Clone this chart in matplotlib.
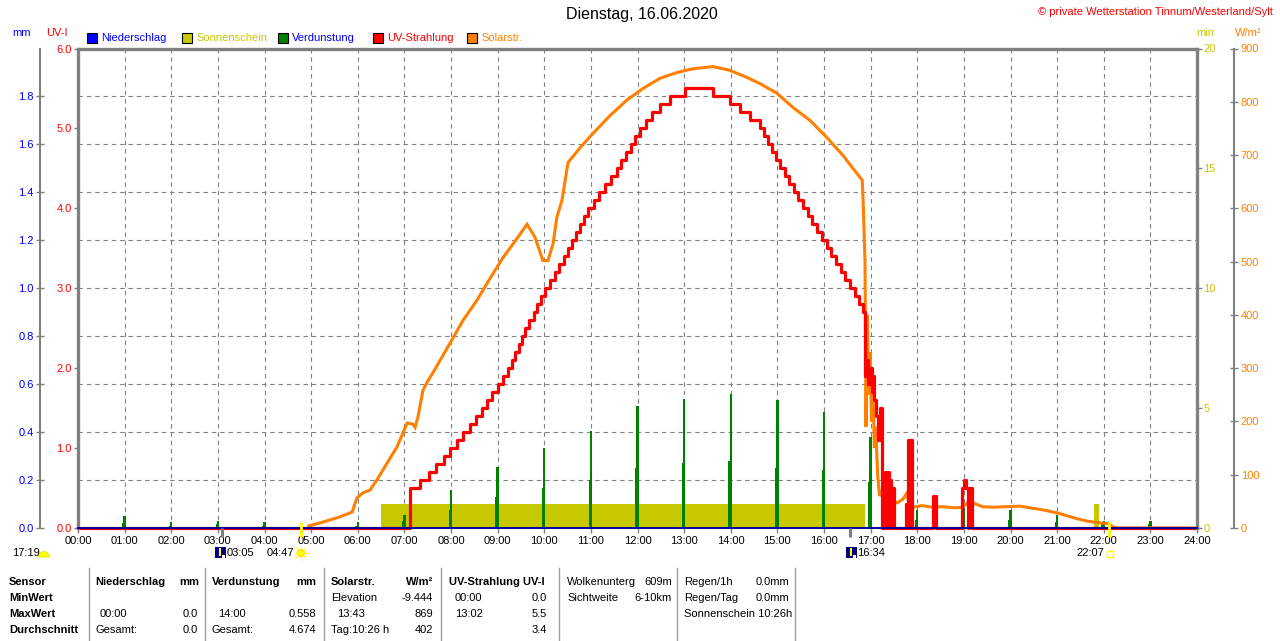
import matplotlib
matplotlib.use('Agg')
import matplotlib.pyplot as plt
from matplotlib.patches import Rectangle, Ellipse, Polygon
from matplotlib.lines import Line2D
import numpy as np

plt.rcParams['font.family'] = ['Liberation Sans', 'DejaVu Sans']
plt.rcParams['font.size'] = 8

# ---------------- data ----------------
hours = list(range(25))
hour_labels = [f"{h:02d}:00" for h in hours]

mm_ticks = [0.0, 0.2, 0.4, 0.6, 0.8, 1.0, 1.2, 1.4, 1.6, 1.8]
uv_ticks = [0, 1, 2, 3, 4, 5, 6]
min_ticks = [0, 5, 10, 15, 20]
w_ticks = [0, 100, 200, 300, 400, 500, 600, 700, 800, 900]

# Solar radiation (W/m2)
solar_t = [4.95, 5.25, 5.62, 5.88, 5.98, 6.11, 6.26, 6.41, 6.63, 6.84, 7.06, 7.18, 7.23, 7.29,
           7.40, 7.49, 7.61, 7.98, 8.26, 8.56, 8.84, 9.12, 9.42, 9.63, 9.80, 9.97, 10.08, 10.19,
           10.27, 10.38, 10.51, 10.77, 11.05, 11.41, 11.77, 12.12, 12.48, 12.85, 13.19, 13.62,
           13.98, 14.34, 14.63, 14.99, 15.34, 15.70, 16.06, 16.41, 16.62, 16.82, 16.84, 16.88,
           16.90, 16.93, 16.96, 16.99, 17.02, 17.05, 17.08, 17.11, 17.15, 17.19, 17.23, 17.30,
           17.35, 17.45, 17.57, 17.70, 17.78, 17.82, 17.91, 18.10, 18.34, 18.55, 18.80, 18.98,
           19.10, 19.20, 19.40, 19.62, 19.90, 20.20, 20.48, 20.70, 20.91, 21.10, 21.28, 21.45,
           21.64, 21.80, 21.98, 22.10, 22.20, 22.30, 24.0]
solar_v = [4, 11, 21, 30, 56, 66, 71, 90, 122, 152, 197, 195, 189, 208,
           259, 274, 291, 347, 390, 428, 469, 508, 544, 570, 546, 502, 502, 534,
           583, 615, 686, 714, 741, 774, 803, 825, 844, 855, 862, 866,
           859, 846, 834, 816, 789, 765, 733, 699, 675, 653, 611, 499,
           190, 400, 250, 330, 200, 260, 150, 190, 100, 60, 70, 50,
           58, 52, 47, 55, 66, 45, 39, 42, 39, 40, 38, 39,
           50, 47, 40, 39, 40, 41, 37, 34, 30, 26, 21, 17,
           13, 11, 9, 8, 2, 0, 0]

# UV index (step values, each value holds until the next time)
uv_t = [0.0, 7.12, 7.34, 7.52, 7.68, 7.84, 7.98, 8.12, 8.26, 8.40, 8.53, 8.66, 8.78, 8.89,
        9.00, 9.11, 9.22, 9.30, 9.38, 9.45, 9.52, 9.59, 9.68, 9.77, 9.85, 9.94, 10.02,
        10.12, 10.22, 10.32, 10.42, 10.51, 10.60, 10.68, 10.77, 10.85, 10.94, 11.06, 11.18,
        11.30, 11.43, 11.55, 11.65, 11.75, 11.85, 11.95, 12.05, 12.18, 12.32, 12.48, 12.70,
        13.02, 13.62, 13.98, 14.20, 14.42, 14.63, 14.72, 14.80, 14.89, 14.97, 15.06, 15.16,
        15.26, 15.36, 15.45, 15.55, 15.65, 15.75, 15.86, 15.96, 16.06, 16.16, 16.26, 16.36,
        16.46, 16.56, 16.66, 16.74, 16.84, 16.88, 16.92, 16.95, 16.98, 17.02, 17.05, 17.08,
        17.12, 17.15, 17.20, 17.24, 17.26, 17.28, 17.30, 17.32, 17.34, 17.36, 17.38, 17.40,
        17.42, 17.44, 17.46, 17.50, 17.76, 17.78, 17.80, 17.84, 17.86, 17.89, 18.34, 18.41,
        18.97, 19.00, 19.05, 19.09, 19.12, 19.17, 24.0]
uv_v = [0.0, 0.5, 0.6, 0.7, 0.8, 0.9, 1.0, 1.1, 1.2, 1.3, 1.4, 1.5, 1.6, 1.7,
        1.8, 1.9, 2.0, 2.1, 2.2, 2.3, 2.4, 2.5, 2.6, 2.7, 2.8, 2.9, 3.0,
        3.1, 3.2, 3.3, 3.4, 3.5, 3.6, 3.7, 3.8, 3.9, 4.0, 4.1, 4.2,
        4.3, 4.4, 4.5, 4.6, 4.7, 4.8, 4.9, 5.0, 5.1, 5.2, 5.3, 5.4,
        5.5, 5.4, 5.3, 5.2, 5.1, 5.0, 4.9, 4.8, 4.7, 4.6, 4.5, 4.4,
        4.3, 4.2, 4.1, 4.0, 3.9, 3.8, 3.7, 3.6, 3.5, 3.4, 3.3, 3.2,
        3.1, 3.0, 2.9, 2.8, 2.7, 1.9, 2.1, 1.8, 2.0, 1.7, 1.9, 1.6,
        1.4, 1.1, 1.5, 0.0, 0.6, 0.0, 0.7, 0.0, 0.5, 0.0, 0.7, 0.0,
        0.6, 0.0, 0.5, 0.0, 0.3, 0.0, 1.1, 0.0, 1.1, 0.0, 0.4, 0.0,
        0.5, 0.6, 0.5, 0.0, 0.5, 0.0, 0.0]

# Evaporation (mm) hourly spikes
evap_t = [1, 2, 3, 4, 6, 7, 8, 9, 10, 11, 12, 13, 14, 15, 16, 17, 18, 19, 20, 21, 22, 23]
evap_main = [0.05, 0.025, 0.03, 0.025, 0.025, 0.054, 0.158, 0.254, 0.333, 0.404, 0.508, 0.537,
             0.558, 0.535, 0.485, 0.38, 0.075, 0.083, 0.075, 0.054, 0.03, 0.03]
evap_side = [0.02, 0.01, 0.015, 0.01, 0.01, 0.03, 0.075, 0.13, 0.167, 0.2, 0.25, 0.27,
             0.28, 0.25, 0.24, 0.19, 0.035, 0.04, 0.035, 0.025, 0.015, 0.015]

# Sunshine (min per minute)
sun_start = [6.50, 21.79]
sun_end = [16.87, 21.89]
sun_min = [1.0, 1.0]

# Precipitation (mm)
rain_t = [0.0, 24.0]
rain_v = [0.0, 0.0]

# Astronomical events
moon_times = [3 + 5 / 60, 16 + 34 / 60]
sun_times = [4 + 47 / 60, 22 + 7 / 60]

# ---------------- colours ----------------
C_BLUE = '#0000ff'
C_NAVY = '#0000a0'
C_RED = '#ff0000'
C_ORANGE = '#ff8000'
C_YEL = '#c8c800'
C_GREEN = '#008000'
C_GREY = '#808080'

W, H = 1280, 641
def fx(x):
    return x / W
def fy(y):
    return 1 - y / H

L, R, T, B = 78, 1197, 48.5, 528
PW = R - L
fig = plt.figure(figsize=(12.8, 6.41), dpi=100)
rect = [fx(L), fy(B), PW / W, (B - T) / H]

ax_mm = fig.add_axes(rect, zorder=1)
ax_min = ax_mm.twinx(); ax_min.set_zorder(2)
ax_ev = ax_mm.twinx(); ax_ev.set_zorder(3)
ax_w = ax_mm.twinx(); ax_w.set_zorder(4)
ax_uv = ax_mm.twinx(); ax_uv.set_zorder(5)
ax_rain = ax_mm.twinx(); ax_rain.set_zorder(6)

for a in (ax_mm, ax_min, ax_ev, ax_w, ax_uv, ax_rain):
    for s in a.spines.values():
        s.set_visible(False)
ax_mm.set_xlim(0, 24)

# mm axis (outer left)
ax_mm.set_ylim(0, 2.0)
ax_mm.set_yticks(mm_ticks)
ax_mm.set_yticklabels([f"{v:.1f}" for v in mm_ticks])
ax_mm.spines['left'].set_visible(True)
ax_mm.spines['left'].set_position(('axes', (40 - L) / PW))
ax_mm.spines['left'].set_color(C_GREY)
ax_mm.spines['left'].set_linewidth(1.5)
ax_mm.tick_params(axis='y', direction='inout', length=6, width=1, color=C_GREY,
                  labelcolor=C_BLUE, pad=1.5, labelsize=8)
ax_mm.set_xticks(hours)
ax_mm.set_xticklabels(hour_labels)
ax_mm.tick_params(axis='x', direction='out', length=3.6, width=1, color=C_GREY,
                  labelcolor='black', pad=2, labelsize=8)
ax_mm.grid(True, color=C_GREY, linestyle=(0, (4, 3.5)), linewidth=0.8)

# sunshine minutes axis (right, at frame)
ax_min.set_ylim(0, 20)
ax_min.set_yticks(min_ticks)
ax_min.tick_params(axis='y', direction='out', length=3.6, width=1, color=C_GREY,
                   labelcolor=C_YEL, pad=1, labelsize=8)
ax_min.bar(sun_start, sun_min, width=np.subtract(sun_end, sun_start), align='edge',
           color=C_YEL, linewidth=0)

# evaporation
ax_ev.set_ylim(0, 2.0)
ax_ev.yaxis.set_visible(False)
ax_ev.bar(np.array(evap_t) - 0.035, evap_side, width=0.03, color=C_GREEN, linewidth=0)
ax_ev.bar(evap_t, evap_main, width=0.05, color=C_GREEN, linewidth=0)

# solar radiation axis (outer right)
ax_w.set_ylim(0, 900)
ax_w.set_yticks(w_ticks)
ax_w.spines['right'].set_visible(True)
ax_w.spines['right'].set_position(('axes', 1 + 37 / PW))
ax_w.spines['right'].set_color(C_GREY)
ax_w.spines['right'].set_linewidth(1.5)
ax_w.tick_params(axis='y', direction='inout', length=5.5, width=1, color=C_GREY,
                 labelcolor=C_ORANGE, pad=2, labelsize=8)
ax_w.plot(solar_t, solar_v, color=C_ORANGE, linewidth=2.2, clip_on=False,
          solid_joinstyle='miter')

# UV axis (inner left) + frame
ax_uv.set_ylim(0, 6)
ax_uv.set_yticks(uv_ticks)
ax_uv.set_yticklabels([f"{v:.1f}" for v in uv_ticks])
ax_uv.yaxis.tick_left()
ax_uv.tick_params(axis='y', direction='out', length=3, width=1, color=C_GREY,
                  labelcolor=C_RED, pad=1.5, labelsize=8)
for side in ('left', 'top', 'right'):
    ax_uv.spines[side].set_visible(True)
    ax_uv.spines[side].set_color(C_GREY)
    ax_uv.spines[side].set_linewidth(2.4)
ax_uv.step(uv_t, uv_v, where='post', color=C_RED, linewidth=2.3, clip_on=False)

# precipitation line
ax_rain.set_ylim(0, 2.0)
ax_rain.yaxis.set_visible(False)
ax_rain.plot(rain_t, rain_v, color=C_NAVY, linewidth=1.4, clip_on=False)

# event ticks on the time axis
xt = ax_mm.get_xaxis_transform()
ax_rain.vlines(moon_times, -0.019, 0.0, transform=xt, colors=C_GREY, linewidth=2.2,
               clip_on=False)
ax_rain.vlines(sun_times, -0.019, 0.013, transform=xt, colors='#ffff00', linewidth=2.0,
               clip_on=False)

# ---------------- texts ----------------
fig.text(fx(642), fy(15), "Dienstag, 16.06.2020", ha='center', va='center', fontsize=11.5)
fig.text(fx(1273), fy(12), "\u00a9 private Wetterstation Tinnum/Westerland/Sylt", ha='right',
         va='center', color=C_RED, fontsize=8)
fig.text(fx(22), fy(33), "mm", ha='center', va='center', color=C_BLUE, fontsize=8)
fig.text(fx(57), fy(33), "UV-I", ha='center', va='center', color=C_RED, fontsize=8)
fig.text(fx(1205), fy(33), "min", ha='center', va='center', color=C_YEL, fontsize=8)
fig.text(fx(1248), fy(33), "W/m\u00b2", ha='center', va='center', color=C_ORANGE, fontsize=8)

legend_items = [("Niederschlag", C_BLUE, C_BLUE, 87),
                ("Sonnenschein", C_YEL, C_YEL, 182),
                ("Verdunstung", C_GREEN, C_BLUE, 278),
                ("UV-Strahlung", C_RED, C_RED, 373),
                ("Solarstr.", C_ORANGE, C_ORANGE, 467)]
for name, bc, tc, x0 in legend_items:
    fig.add_artist(Rectangle((fx(x0), fy(43)), 10 / W, 10 / H, transform=fig.transFigure,
                             facecolor=bc, edgecolor='black', linewidth=0.8))
    fig.text(fx(x0 + 14), fy(38), name, ha='left', va='center', color=tc, fontsize=8)

# event labels below the axis
fig.text(fx(12), fy(553), "17:19", ha='left', va='center', fontsize=8)
ang = np.linspace(0, np.pi, 20)
dome = [(fx(44 + 5.5 * np.cos(a)), fy(557 - 5.5 * np.sin(a))) for a in ang]
fig.add_artist(Polygon(dome, closed=True, transform=fig.transFigure,
                       facecolor='#ffff00', edgecolor='#e0e000', linewidth=0.5))

def moon_icon(x):
    fig.add_artist(Rectangle((fx(x), fy(558)), 11 / W, 11 / H, transform=fig.transFigure,
                             facecolor='#000080', edgecolor='none'))
    fig.add_artist(Rectangle((fx(x + 4), fy(556)), 2 / W, 8 / H, transform=fig.transFigure,
                             facecolor='#ffff00', edgecolor='none'))
    fig.add_artist(Rectangle((fx(x + 7), fy(558)), 3 / W, 3 / H, transform=fig.transFigure,
                             facecolor='white', edgecolor='none'))

moon_icon(215)
fig.text(fx(227), fy(553), "03:05", ha='left', va='center', fontsize=8)
fig.text(fx(267), fy(553), "04:47", ha='left', va='center', fontsize=8)
fig.add_artist(Ellipse((fx(301), fy(553)), 7 / W, 7 / H, transform=fig.transFigure,
                       facecolor='#ffff00', edgecolor='#ffe000'))
for k in range(8):
    a = k * np.pi / 4
    fig.add_artist(Line2D([fx(301 + 4.5 * np.cos(a)), fx(301 + 6.5 * np.cos(a))],
                          [fy(553 - 4.5 * np.sin(a)), fy(553 - 6.5 * np.sin(a))],
                          transform=fig.transFigure, color='#ffff00', linewidth=0.8))
moon_icon(846)
fig.text(fx(857), fy(553), "16:34", ha='left', va='center', fontsize=8)
fig.text(fx(1076), fy(553), "22:07", ha='left', va='center', fontsize=8)
fig.add_artist(Rectangle((fx(1107), fy(557)), 6 / W, 6 / H, transform=fig.transFigure,
                         facecolor='none', edgecolor='#ffff00', linewidth=1))

# ---------------- table ----------------
rows_y = [582, 598, 614, 630]
for xs in [88.6, 205, 324, 441, 559, 677, 795]:
    fig.add_artist(Line2D([fx(xs), fx(xs)], [fy(568), fy(641)], transform=fig.transFigure,
                          color='#a0a0a0', linewidth=1))

bold_left = [(9, 0, "Sensor"), (9, 1, "MinWert"), (9, 2, "MaxWert"), (9, 3, "Durchschnitt"),
             (95, 0, "Niederschlag"), (212, 0, "Verdunstung"), (331, 0, "Solarstr."),
             (449, 0, "UV-Strahlung UV-I")]
for x, r, s in bold_left:
    fig.text(fx(x), fy(rows_y[r]), s, ha='left', va='center', fontsize=8, fontweight='bold')
bold_right = [(199, 0, "mm"), (316, 0, "mm"), (433, 0, "W/m\u00b2")]
for x, r, s in bold_right:
    fig.text(fx(x), fy(rows_y[r]), s, ha='right', va='center', fontsize=8, fontweight='bold')

plain_left = [(331, 1, "Elevation"), (455, 1, "00:00"), (100, 2, "00:00"), (218, 2, "14:00"),
              (337, 2, "13:43"), (455, 2, "13:02"), (95, 3, "Gesamt:"), (212, 3, "Gesamt:"),
              (331, 3, "Tag:10:26 h"), (567, 0, "Wolkenunterg"), (567, 1, "Sichtweite"),
              (684, 0, "Regen/1h"), (684, 1, "Regen/Tag"), (684, 2, "Sonnenschein 10:26h")]
for x, r, s in plain_left:
    fig.text(fx(x), fy(rows_y[r]), s, ha='left', va='center', fontsize=8)
plain_right = [(433, 1, "-9.444"), (547, 1, "0.0"), (198, 2, "0.0"), (316, 2, "0.558"),
               (433, 2, "869"), (547, 2, "5.5"), (198, 3, "0.0"), (316, 3, "4.674"),
               (433, 3, "402"), (547, 3, "3.4"), (672, 0, "609m"), (672, 1, "6-10km"),
               (789, 0, "0.0mm"), (789, 1, "0.0mm")]
for x, r, s in plain_right:
    fig.text(fx(x), fy(rows_y[r]), s, ha='right', va='center', fontsize=8)

fig.savefig("out.png", dpi=100)
